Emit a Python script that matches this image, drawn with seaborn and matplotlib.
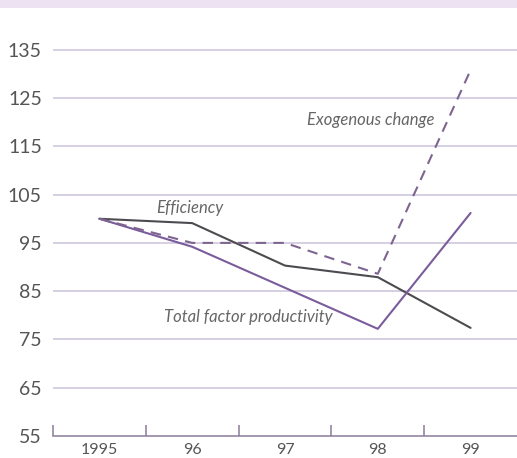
import pandas as pd
import matplotlib.pyplot as plt
import seaborn as sns
from matplotlib.patches import Rectangle

years = ['1995', '96', '97', '98', '99']
efficiency = [100, 99.1, 90.3, 87.9, 77.4]
tfp = [100, 94.2, 85.7, 77.2, 101.2]
exogenous = [100, 95, 95, 88.6, 130.8]
y_ticks = [55, 65, 75, 85, 95, 105, 115, 125, 135]

rows = []
for name, vals in [('Efficiency', efficiency), ('Total factor productivity', tfp),
                   ('Exogenous change', exogenous)]:
    for i, v in enumerate(vals):
        rows.append({'x': i, 'value': v, 'series': name})
df = pd.DataFrame(rows)

sns.set_style('white')
plt.rcParams['font.family'] = ['Lato', 'DejaVu Sans']

fig = plt.figure(figsize=(5.17, 4.58), dpi=100)
fig.add_artist(Rectangle((0, 0.982), 1, 0.018, transform=fig.transFigure,
                         color='#ece2f2', lw=0))
ax = fig.add_axes([0.1025, 0.048, 0.8975, 0.896])

grid_col = '#cbc1da'
for t in y_ticks[1:]:
    ax.axhline(t, color=grid_col, lw=1.1, zorder=0)

palette = {'Efficiency': '#4d4b50', 'Total factor productivity': '#7a5c9c',
           'Exogenous change': '#7e6590'}
dashes = {'Efficiency': '', 'Total factor productivity': '',
          'Exogenous change': (5, 3.5)}
sns.lineplot(data=df, x='x', y='value', hue='series', style='series',
             palette=palette, dashes=dashes, lw=1.5, ax=ax, legend=False)

ax.set_xlim(-0.5, 4.5)
ax.set_ylim(55, 140)
ax.set_xticks(range(5))
ax.set_xticklabels(years)
ax.set_xticks([-0.5, 0.5, 1.5, 2.5, 3.5], minor=True)
ax.tick_params(axis='x', which='major', bottom=False, length=0, labelsize=11.5,
               labelcolor='#555555', pad=5)
ax.tick_params(axis='x', which='minor', bottom=True, direction='in', length=8,
               width=1.1, color='#8c7c98')
ax.set_yticks(y_ticks)
ax.tick_params(axis='y', length=0, labelsize=14, labelcolor='#555555', pad=8)
ax.set_xlabel('')
ax.set_ylabel('')
for s in ['top', 'right', 'left']:
    ax.spines[s].set_visible(False)
ax.spines['bottom'].set_color('#8c7c98')
ax.spines['bottom'].set_linewidth(1.1)

tk = dict(fontsize=12, style='italic', color='#666666')
ax.text(2.92, 120.5, 'Exogenous change', ha='center', va='center', **tk)
ax.text(0.97, 102.3, 'Efficiency', ha='center', va='center', **tk)
ax.text(1.61, 79.7, 'Total factor productivity', ha='center', va='center', **tk)

fig.savefig('out.png', dpi=100)
